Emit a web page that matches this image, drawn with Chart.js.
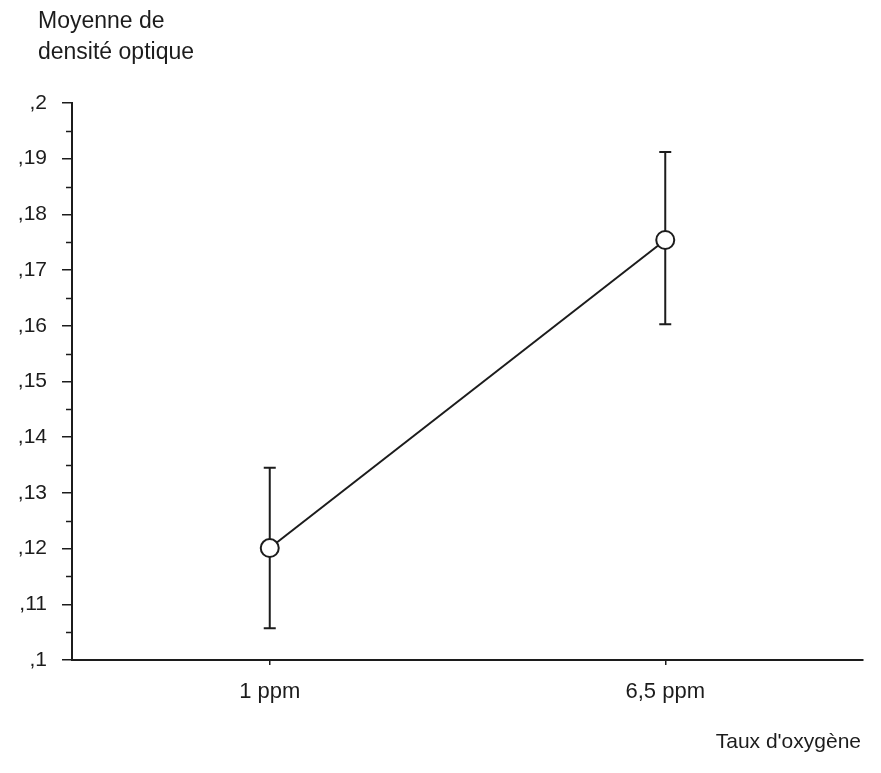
<!DOCTYPE html>
<html><head><meta charset="utf-8">
<script src="https://cdn.jsdelivr.net/npm/chart.js@4.4.1/dist/chart.umd.min.js"></script>
<style>html,body{margin:0;padding:0;background:#fff;}#wrap{width:881px;height:773px;position:relative;}</style>
</head><body><div id="wrap"><canvas id="c"></canvas></div>
<script>
const categories = ['1 ppm', '6,5 ppm'];
const means = [0.1201, 0.1754];
const upperBounds = [0.1345, 0.1912];
const lowerBounds = [0.1057, 0.1603];
const yTickLabels = [',1', ',11', ',12', ',13', ',14', ',15', ',16', ',17', ',18', ',19', ',2'];
const yTitle = ['Moyenne de', 'densité optique'];
const xTitle = "Taux d'oxygène";

const FONT = "'Liberation Sans', Arial, sans-serif";
const INK = '#1c1c1c';

const errorBars = {
  id: 'errorBars',
  beforeDatasetsDraw(chart) {
    const ctx = chart.ctx, x = chart.scales.x, y = chart.scales.y;
    ctx.save();
    ctx.strokeStyle = INK; ctx.lineWidth = 2;
    categories.forEach((c, i) => {
      const px = x.getPixelForValue(i);
      const top = y.getPixelForValue(upperBounds[i]);
      const bot = y.getPixelForValue(lowerBounds[i]);
      ctx.beginPath();
      ctx.moveTo(px, top); ctx.lineTo(px, bot);
      ctx.moveTo(px - 6, top); ctx.lineTo(px + 6, top);
      ctx.moveTo(px - 6, bot); ctx.lineTo(px + 6, bot);
      ctx.stroke();
    });
    ctx.restore();
  }
};

const extras = {
  id: 'extras',
  afterDraw(chart) {
    const ctx = chart.ctx, y = chart.scales.y;
    ctx.save();
    ctx.strokeStyle = INK; ctx.lineWidth = 1.5;
    const ticks = y.ticks;
    for (let i = 0; i < ticks.length - 1; i++) {
      const v = (ticks[i].value + ticks[i + 1].value) / 2;
      const py = Math.round(y.getPixelForValue(v)) + 0.5;
      ctx.beginPath();
      ctx.moveTo(y.right - 6, py); ctx.lineTo(y.right, py);
      ctx.stroke();
    }
    ctx.fillStyle = INK;
    ctx.font = '23px ' + FONT;
    ctx.textBaseline = 'middle';
    ctx.textAlign = 'left';
    ctx.fillText(yTitle[0], 38, 22);
    ctx.fillText(yTitle[1], 38, 53);
    ctx.font = '21px ' + FONT;
    ctx.textAlign = 'right';
    ctx.fillText(xTitle, 861, 742);
    ctx.restore();
  }
};

new Chart(document.getElementById('c'), {
  type: 'line',
  data: {
    labels: categories,
    datasets: [{
      data: means,
      borderColor: INK,
      borderWidth: 2,
      pointRadius: 9,
      pointHoverRadius: 9,
      pointBackgroundColor: '#fff',
      pointBorderColor: INK,
      pointBorderWidth: 2,
      tension: 0
    }]
  },
  options: {
    responsive: true,
    maintainAspectRatio: false,
    animation: false,
    events: [],
    layout: { padding: { top: 103, right: 18, left: 0, bottom: 0 } },
    plugins: { legend: { display: false }, tooltip: { enabled: false } },
    scales: {
      x: {
        offset: true,
        grid: { display: true, drawOnChartArea: false, drawTicks: true, tickLength: 5, color: INK, lineWidth: 1.5 },
        border: { display: true, color: INK, width: 2 },
        ticks: { color: INK, font: { family: FONT, size: 22 }, padding: 14, maxRotation: 0 },
        afterFit: s => { s.height = 113; }
      },
      y: {
        min: 0.1, max: 0.2,
        grid: { display: true, drawOnChartArea: false, drawTicks: true, tickLength: 10, color: INK, lineWidth: 1.5 },
        border: { display: true, color: INK, width: 2 },
        ticks: { stepSize: 0.01, color: INK, font: { family: FONT, size: 21 }, padding: 15,
          callback: (v, i) => yTickLabels[i] },
        afterFit: s => { s.width = 72; }
      }
    }
  },
  plugins: [errorBars, extras]
});
</script>
</body></html>
